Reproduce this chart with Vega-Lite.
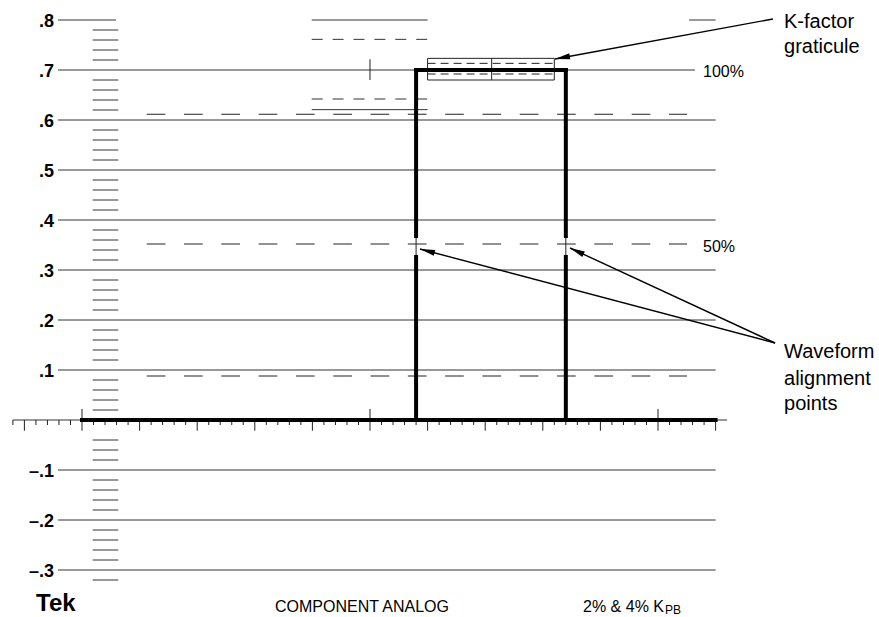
{
  "$schema": "https://vega.github.io/schema/vega-lite/v6.json",
  "width": 879,
  "height": 617,
  "padding": 0,
  "autosize": {"type": "none"},
  "background": "white",
  "config": {"view": {"stroke": null}},
  "datasets": {
    "grid": [
      {"u": -2.08, "u2": 2.95, "v": 0.8},
      {"u": 19.94, "u2": 30, "v": 0.8},
      {"u": 52.7, "u2": 55, "v": 0.8},
      {"u": -2.08, "u2": 53.2, "v": 0.7},
      {"u": -2.08, "u2": 55, "v": 0.6},
      {"u": -2.08, "u2": 55, "v": 0.5},
      {"u": -2.08, "u2": 55, "v": 0.4},
      {"u": -2.08, "u2": 55, "v": 0.3},
      {"u": -2.08, "u2": 55, "v": 0.2},
      {"u": -2.08, "u2": 55, "v": 0.1},
      {"u": -2.08, "u2": 55, "v": -0.1},
      {"u": -2.08, "u2": 55, "v": -0.2},
      {"u": -2.08, "u2": 55, "v": -0.3},
      {"u": 19.94, "u2": 30, "v": 0.6207},
      {"u": -6, "u2": 56, "v": 0}
    ],
    "scale": [
      {"u": 0.93, "u2": 3.15, "v": 0.78}, {"u": 0.93, "u2": 3.15, "v": 0.76}, {"u": 0.93, "u2": 3.15, "v": 0.74}, {"u": 0.93, "u2": 3.15, "v": 0.72},
      {"u": 0.93, "u2": 3.15, "v": 0.68}, {"u": 0.93, "u2": 3.15, "v": 0.66}, {"u": 0.93, "u2": 3.15, "v": 0.64}, {"u": 0.93, "u2": 3.15, "v": 0.62},
      {"u": 0.93, "u2": 3.15, "v": 0.58}, {"u": 0.93, "u2": 3.15, "v": 0.56}, {"u": 0.93, "u2": 3.15, "v": 0.54}, {"u": 0.93, "u2": 3.15, "v": 0.52},
      {"u": 0.93, "u2": 3.15, "v": 0.48}, {"u": 0.93, "u2": 3.15, "v": 0.46}, {"u": 0.93, "u2": 3.15, "v": 0.44}, {"u": 0.93, "u2": 3.15, "v": 0.42},
      {"u": 0.93, "u2": 3.15, "v": 0.38}, {"u": 0.93, "u2": 3.15, "v": 0.36}, {"u": 0.93, "u2": 3.15, "v": 0.34}, {"u": 0.93, "u2": 3.15, "v": 0.32},
      {"u": 0.93, "u2": 3.15, "v": 0.28}, {"u": 0.93, "u2": 3.15, "v": 0.26}, {"u": 0.93, "u2": 3.15, "v": 0.24}, {"u": 0.93, "u2": 3.15, "v": 0.22},
      {"u": 0.93, "u2": 3.15, "v": 0.18}, {"u": 0.93, "u2": 3.15, "v": 0.16}, {"u": 0.93, "u2": 3.15, "v": 0.14}, {"u": 0.93, "u2": 3.15, "v": 0.12},
      {"u": 0.93, "u2": 3.15, "v": 0.08}, {"u": 0.93, "u2": 3.15, "v": 0.06}, {"u": 0.93, "u2": 3.15, "v": 0.04}, {"u": 0.93, "u2": 3.15, "v": 0.02},
      {"u": 0.93, "u2": 3.15, "v": -0.04}, {"u": 0.93, "u2": 3.15, "v": -0.06}, {"u": 0.93, "u2": 3.15, "v": -0.08},
      {"u": 0.93, "u2": 3.15, "v": -0.12}, {"u": 0.93, "u2": 3.15, "v": -0.14}, {"u": 0.93, "u2": 3.15, "v": -0.16}, {"u": 0.93, "u2": 3.15, "v": -0.18},
      {"u": 0.93, "u2": 3.15, "v": -0.22}, {"u": 0.93, "u2": 3.15, "v": -0.24}, {"u": 0.93, "u2": 3.15, "v": -0.26}, {"u": 0.93, "u2": 3.15, "v": -0.28},
      {"u": 0.93, "u2": 3.15, "v": -0.32}
    ],
    "ticks": [
      {"u": -6, "v": 0, "v2": -0.01}, {"u": -5, "v": 0, "v2": -0.0214}, {"u": -4, "v": 0, "v2": -0.01}, {"u": -3, "v": 0, "v2": -0.01}, {"u": -2, "v": 0, "v2": -0.01}, {"u": -1, "v": 0, "v2": -0.01},
      {"u": 0, "v": 0.022, "v2": -0.0214},
      {"u": 1, "v": 0, "v2": -0.01}, {"u": 2, "v": 0, "v2": -0.01}, {"u": 3, "v": 0, "v2": -0.01}, {"u": 4, "v": 0, "v2": -0.01},
      {"u": 5, "v": 0, "v2": -0.0214},
      {"u": 6, "v": 0, "v2": -0.01}, {"u": 7, "v": 0, "v2": -0.01}, {"u": 8, "v": 0, "v2": -0.01}, {"u": 9, "v": 0, "v2": -0.01},
      {"u": 10, "v": 0, "v2": -0.0214},
      {"u": 11, "v": 0, "v2": -0.01}, {"u": 12, "v": 0, "v2": -0.01}, {"u": 13, "v": 0, "v2": -0.01}, {"u": 14, "v": 0, "v2": -0.01},
      {"u": 15, "v": 0, "v2": -0.0214},
      {"u": 16, "v": 0, "v2": -0.01}, {"u": 17, "v": 0, "v2": -0.01}, {"u": 18, "v": 0, "v2": -0.01}, {"u": 19, "v": 0, "v2": -0.01},
      {"u": 20, "v": 0, "v2": -0.0214},
      {"u": 21, "v": 0, "v2": -0.01}, {"u": 22, "v": 0, "v2": -0.01}, {"u": 23, "v": 0, "v2": -0.01}, {"u": 24, "v": 0, "v2": -0.01},
      {"u": 25, "v": 0.022, "v2": -0.0214},
      {"u": 26, "v": 0, "v2": -0.01}, {"u": 27, "v": 0, "v2": -0.01}, {"u": 28, "v": 0, "v2": -0.01}, {"u": 29, "v": 0, "v2": -0.01},
      {"u": 30, "v": 0, "v2": -0.0214},
      {"u": 31, "v": 0, "v2": -0.01}, {"u": 32, "v": 0, "v2": -0.01}, {"u": 33, "v": 0, "v2": -0.01}, {"u": 34, "v": 0, "v2": -0.01},
      {"u": 35, "v": 0, "v2": -0.0214},
      {"u": 36, "v": 0, "v2": -0.01}, {"u": 37, "v": 0, "v2": -0.01}, {"u": 38, "v": 0, "v2": -0.01}, {"u": 39, "v": 0, "v2": -0.01},
      {"u": 40, "v": 0, "v2": -0.0214},
      {"u": 41, "v": 0, "v2": -0.01}, {"u": 42, "v": 0, "v2": -0.01}, {"u": 43, "v": 0, "v2": -0.01}, {"u": 44, "v": 0, "v2": -0.01},
      {"u": 45, "v": 0, "v2": -0.0214},
      {"u": 46, "v": 0, "v2": -0.01}, {"u": 47, "v": 0, "v2": -0.01}, {"u": 48, "v": 0, "v2": -0.01}, {"u": 49, "v": 0, "v2": -0.01},
      {"u": 50, "v": 0.022, "v2": -0.0214},
      {"u": 51, "v": 0, "v2": -0.01}, {"u": 52, "v": 0, "v2": -0.01}, {"u": 53, "v": 0, "v2": -0.01}, {"u": 54, "v": 0, "v2": -0.01},
      {"u": 55, "v": 0, "v2": -0.0214},
      {"u": 25, "v": 0.68, "v2": 0.7214},
      {"u": 35.56, "v": 0.68, "v2": 0.7233},
      {"u": 29, "v": 0.33, "v2": 0.364},
      {"u": 42, "v": 0.33, "v2": 0.364}
    ],
    "longdash": [
      {"u": 5.62, "u2": 52.52, "v": 0.6115},
      {"u": 5.62, "u2": 52.52, "v": 0.352},
      {"u": 5.62, "u2": 52.52, "v": 0.088}
    ],
    "shortdash": [
      {"u": 19.94, "u2": 30, "v": 0.7613},
      {"u": 19.94, "u2": 30, "v": 0.642}
    ],
    "kdash": [
      {"u": 30, "u2": 41, "v": 0.7133},
      {"u": 30, "u2": 41, "v": 0.692}
    ],
    "kbox": [
      {"u": 30, "u2": 41, "v": 0.68, "v2": 0.7233}
    ],
    "pulse": [
      {"u": 0, "u2": 55, "v": 0, "v2": 0},
      {"u": 29, "u2": 29, "v": 0, "v2": 0.326},
      {"u": 29, "u2": 29, "v": 0.368, "v2": 0.7},
      {"u": 29, "u2": 42, "v": 0.7, "v2": 0.7},
      {"u": 42, "u2": 42, "v": 0.7, "v2": 0.368},
      {"u": 42, "u2": 42, "v": 0.326, "v2": 0}
    ],
    "arrows": [
      {"u": 59.98, "v": 0.802, "u2": 41.06, "v2": 0.722},
      {"u": 60.16, "v": 0.154, "u2": 29.34, "v2": 0.342},
      {"u": 60.16, "v": 0.154, "u2": 42.36, "v2": 0.344}
    ],
    "head1": [{"u": 41.06, "v": 0.722}],
    "head2": [{"u": 29.34, "v": 0.342}],
    "head3": [{"u": 42.36, "v": 0.344}],
    "ylabels": [
      {"u": -2.43, "v": 0.8, "t": ".8"},
      {"u": -2.43, "v": 0.7, "t": ".7"},
      {"u": -2.43, "v": 0.6, "t": ".6"},
      {"u": -2.43, "v": 0.5, "t": ".5"},
      {"u": -2.43, "v": 0.4, "t": ".4"},
      {"u": -2.43, "v": 0.3, "t": ".3"},
      {"u": -2.43, "v": 0.2, "t": ".2"},
      {"u": -2.43, "v": 0.1, "t": ".1"},
      {"u": -2.43, "v": -0.1, "t": "–.1"},
      {"u": -2.43, "v": -0.2, "t": "–.2"},
      {"u": -2.43, "v": -0.3, "t": "–.3"}
    ],
    "tek": [{"u": -3.99, "v": -0.382, "t": "Tek"}],
    "footer": [{"u": 16.75, "v": -0.384, "t": "COMPONENT ANALOG"}],
    "kpb": [{"u": 50.52, "v": -0.383, "t": "2% & 4% K"}],
    "sub": [{"u": 50.61, "v": -0.388, "t": "PB"}],
    "pct": [
      {"u": 53.91, "v": 0.6866, "t": "100%"},
      {"u": 53.91, "v": 0.337, "t": "50%"}
    ],
    "notes": [
      {"u": 60.94, "v": 0.7834, "t": "K-factor"},
      {"u": 60.94, "v": 0.734, "t": "graticule"},
      {"u": 60.94, "v": 0.1234, "t": "Waveform"},
      {"u": 60.94, "v": 0.07, "t": "alignment"},
      {"u": 60.94, "v": 0.02, "t": "points"}
    ]
  },
  "encoding": {
    "x": {"field": "u", "type": "quantitative", "scale": {"domain": [-7.118, 69.184], "nice": false, "zero": false}, "axis": null},
    "y": {"field": "v", "type": "quantitative", "scale": {"domain": [-0.394, 0.84], "nice": false, "zero": false}, "axis": null}
  },
  "layer": [
    {
      "data": {"name": "grid"},
      "mark": {"type": "rule", "color": "#333333", "strokeWidth": 1},
      "encoding": {"x2": {"field": "u2"}}
    },
    {
      "data": {"name": "scale"},
      "mark": {"type": "rule", "color": "#333333", "strokeWidth": 1},
      "encoding": {"x2": {"field": "u2"}}
    },
    {
      "data": {"name": "ticks"},
      "mark": {"type": "rule", "color": "#222222", "strokeWidth": 1},
      "encoding": {"y2": {"field": "v2"}}
    },
    {
      "data": {"name": "longdash"},
      "mark": {"type": "rule", "color": "#222222", "strokeWidth": 1, "strokeDash": [18.7, 18.6]},
      "encoding": {"x2": {"field": "u2"}}
    },
    {
      "data": {"name": "shortdash"},
      "mark": {"type": "rule", "color": "#333333", "strokeWidth": 1, "strokeDash": [11, 9.9]},
      "encoding": {"x2": {"field": "u2"}}
    },
    {
      "data": {"name": "kdash"},
      "mark": {"type": "rule", "color": "#222222", "strokeWidth": 1, "strokeDash": [8, 5]},
      "encoding": {"x2": {"field": "u2"}}
    },
    {
      "data": {"name": "kbox"},
      "mark": {"type": "rect", "fill": null, "fillOpacity": 0, "stroke": "#222222", "strokeWidth": 1},
      "encoding": {"x2": {"field": "u2"}, "y2": {"field": "v2"}}
    },
    {
      "data": {"name": "pulse"},
      "mark": {"type": "rule", "color": "black", "strokeWidth": 4, "strokeCap": "square"},
      "encoding": {"x2": {"field": "u2"}, "y2": {"field": "v2"}}
    },
    {
      "data": {"name": "arrows"},
      "mark": {"type": "rule", "color": "black", "strokeWidth": 1.4},
      "encoding": {"x2": {"field": "u2"}, "y2": {"field": "v2"}}
    },
    {
      "data": {"name": "head1"},
      "mark": {"type": "point", "shape": "M0,0L0.4,2L-0.4,2Z", "size": 225, "filled": true, "color": "black", "opacity": 1, "strokeWidth": 0, "angle": 259.6}
    },
    {
      "data": {"name": "head2"},
      "mark": {"type": "point", "shape": "M0,0L0.4,2L-0.4,2Z", "size": 225, "filled": true, "color": "black", "opacity": 1, "strokeWidth": 0, "angle": 284.8}
    },
    {
      "data": {"name": "head3"},
      "mark": {"type": "point", "shape": "M0,0L0.4,2L-0.4,2Z", "size": 225, "filled": true, "color": "black", "opacity": 1, "strokeWidth": 0, "angle": 294.9}
    },
    {
      "data": {"name": "ylabels"},
      "mark": {"type": "text", "font": "Liberation Sans", "fontWeight": "bold", "fontSize": 18, "align": "right", "baseline": "alphabetic", "dy": 7, "color": "black"},
      "encoding": {"text": {"field": "t"}}
    },
    {
      "data": {"name": "tek"},
      "mark": {"type": "text", "font": "Liberation Sans", "fontWeight": "bold", "fontSize": 24, "align": "left", "baseline": "alphabetic", "color": "black"},
      "encoding": {"text": {"field": "t"}}
    },
    {
      "data": {"name": "footer"},
      "mark": {"type": "text", "font": "Liberation Sans", "fontSize": 16, "align": "left", "baseline": "alphabetic", "color": "black"},
      "encoding": {"text": {"field": "t"}}
    },
    {
      "data": {"name": "kpb"},
      "mark": {"type": "text", "font": "Liberation Sans", "fontSize": 16, "align": "right", "baseline": "alphabetic", "color": "black"},
      "encoding": {"text": {"field": "t"}}
    },
    {
      "data": {"name": "sub"},
      "mark": {"type": "text", "font": "Liberation Sans", "fontSize": 12, "align": "left", "baseline": "alphabetic", "color": "black"},
      "encoding": {"text": {"field": "t"}}
    },
    {
      "data": {"name": "pct"},
      "mark": {"type": "text", "font": "Liberation Sans", "fontSize": 16, "align": "left", "baseline": "alphabetic", "color": "black"},
      "encoding": {"text": {"field": "t"}}
    },
    {
      "data": {"name": "notes"},
      "mark": {"type": "text", "font": "Liberation Sans", "fontSize": 20, "align": "left", "baseline": "alphabetic", "color": "black"},
      "encoding": {"text": {"field": "t"}}
    }
  ]
}
